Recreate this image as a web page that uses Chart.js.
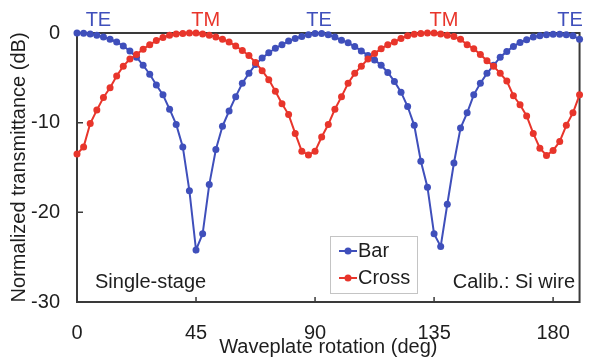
<!DOCTYPE html>
<html><head><meta charset="utf-8">
<script src="https://cdn.jsdelivr.net/npm/chart.js@4.4.0/dist/chart.umd.min.js"></script>
<style>html,body{margin:0;padding:0;background:#fff;}#wrap{width:589px;height:359px;}</style>
</head><body><div id="wrap"><canvas id="c" width="589" height="359"></canvas></div>
<script>
// Waveplate rotation angles (deg)
const angles = [0,2.5,5,7.5,10,12.5,15,17.5,20,22.5,25,27.5,30,32.5,35,37.5,40,42.5,45,
  47.5,50,52.5,55,57.5,60,62.5,65,67.5,70,72.5,75,77.5,80,82.5,85,87.5,90,
  92.5,95,97.5,100,102.5,105,107.5,110,112.5,115,117.5,120,122.5,125,127.5,130,132.5,135,
  137.5,140,142.5,145,147.5,150,152.5,155,157.5,160,162.5,165,167.5,170,172.5,175,177.5,180,182.5,185,187.5,190];
// Bar port normalized transmittance (dB)
const barValues = [0,-0.02,-0.1,-0.25,-0.45,-0.7,-1.0,-1.45,-2.0,-2.7,-3.6,-4.6,-5.8,-6.9,-8.5,-10.2,-12.7,-17.6,-24.2,
  -22.4,-16.9,-13.0,-10.4,-8.7,-7.1,-5.6,-4.5,-3.5,-2.8,-2.2,-1.7,-1.3,-0.9,-0.6,-0.4,-0.2,-0.05,
  -0.05,-0.2,-0.45,-0.8,-1.1,-1.5,-2.0,-2.5,-3.0,-3.6,-4.4,-5.4,-6.6,-8.2,-10.3,-14.3,-17.2,-22.4,
  -23.8,-19.1,-14.5,-10.6,-8.9,-6.9,-5.6,-4.5,-3.6,-2.7,-2.05,-1.5,-1.05,-0.75,-0.45,-0.3,-0.2,-0.15,-0.15,-0.2,-0.3,-0.7];
// Cross port normalized transmittance (dB)
const crossValues = [-13.5,-12.7,-10.1,-8.6,-7.2,-6.1,-4.8,-3.7,-2.9,-2.4,-1.8,-1.3,-0.85,-0.5,-0.25,-0.1,-0.05,0,0,
  -0.1,-0.25,-0.45,-0.7,-1.0,-1.45,-1.95,-2.5,-3.3,-4.2,-5.2,-6.5,-7.9,-9.1,-11.2,-13.2,-13.6,-13.2,
  -11.6,-10.2,-8.5,-7.1,-5.6,-4.5,-3.7,-2.9,-2.3,-1.75,-1.3,-1.0,-0.6,-0.3,-0.15,-0.05,0,0,
  -0.1,-0.25,-0.4,-0.7,-1.3,-1.75,-2.4,-3.1,-3.7,-4.5,-5.35,-7.0,-8.0,-9.25,-11.2,-12.85,-13.65,-13.1,-12.1,-10.3,-8.9,-6.9];
const seriesNames = ['Bar','Cross'];
const xTickValues = [0,45,90,135,180];
const yTickValues = [0,-10,-20,-30];

const BLUE = '#3f4fbb', RED = '#e8352b';
const FONT = '"Liberation Sans", Arial, sans-serif';
const TXT = '#1e1e1e';

const decor = {
  id: 'decor',
  beforeDatasetsDraw(chart) {
    const {ctx, chartArea: a, scales} = chart;
    ctx.save();
    ctx.strokeStyle = '#3a3a3a';
    ctx.lineWidth = 2;
    ctx.strokeRect(a.left, a.top, a.right - a.left, a.bottom - a.top);
    ctx.lineWidth = 1.5;
    ctx.beginPath();
    scales.x.ticks.forEach(t => {
      const px = scales.x.getPixelForValue(t.value);
      ctx.moveTo(px, a.bottom); ctx.lineTo(px, a.bottom - 5);
    });
    scales.y.ticks.forEach(t => {
      const py = scales.y.getPixelForValue(t.value);
      ctx.moveTo(a.left, py); ctx.lineTo(a.left + 6, py);
    });
    ctx.stroke();
    ctx.restore();
  },
  afterDatasetsDraw(chart) {
    const {ctx, chartArea: a, scales} = chart;
    ctx.save();
    ctx.font = '20px ' + FONT;
    ctx.textBaseline = 'middle';
    ctx.textAlign = 'center';
    const modes = [['TE', 8.1, BLUE], ['TM', 48.7, RED], ['TE', 91.5, BLUE], ['TM', 138.7, RED], ['TE', 186.4, BLUE]];
    modes.forEach(([t, x, c]) => { ctx.fillStyle = c; ctx.fillText(t, scales.x.getPixelForValue(x), 20); });
    ctx.fillStyle = TXT;
    ctx.textAlign = 'left';
    ctx.fillText('Single-stage', 95, 282);
    ctx.textAlign = 'right';
    ctx.fillText('Calib.: Si wire', 575, 282);
    // legend box
    const lx = 330, ly = 236, lw = 87, lh = 57;
    ctx.fillStyle = '#fff';
    ctx.fillRect(lx, ly, lw, lh);
    ctx.strokeStyle = '#c4c4c4';
    ctx.lineWidth = 1;
    ctx.strokeRect(lx + 0.5, ly + 0.5, lw, lh);
    chart.data.datasets.forEach((ds, i) => {
      const y = ly + 15 + i * 27;
      ctx.strokeStyle = ds.borderColor; ctx.lineWidth = 2;
      ctx.beginPath(); ctx.moveTo(339, y); ctx.lineTo(357, y); ctx.stroke();
      ctx.fillStyle = ds.borderColor;
      ctx.beginPath(); ctx.arc(348, y, 3.5, 0, Math.PI * 2); ctx.fill();
      ctx.fillStyle = TXT; ctx.textAlign = 'left';
      ctx.fillText(ds.label, 358, y);
    });
    ctx.restore();
  }
};

new Chart(document.getElementById('c'), {
  type: 'line',
  data: {
    datasets: [
      { label: seriesNames[0], data: angles.map((a, i) => ({x: a, y: barValues[i]})), borderColor: BLUE, backgroundColor: BLUE,
        pointBackgroundColor: BLUE, pointBorderWidth: 0, pointRadius: 3.5, borderWidth: 2, order: 1, clip: false },
      { label: seriesNames[1], data: angles.map((a, i) => ({x: a, y: crossValues[i]})), borderColor: RED, backgroundColor: RED,
        pointBackgroundColor: RED, pointBorderWidth: 0, pointRadius: 3.5, borderWidth: 2, order: 0, clip: false }
    ]
  },
  options: {
    responsive: false, animation: false, devicePixelRatio: 1,
    layout: { padding: { left: 0, top: 33, right: 4, bottom: 0 } },
    plugins: { legend: { display: false }, tooltip: { enabled: false } },
    scales: {
      x: {
        type: 'linear', min: 0, max: 190,
        afterBuildTicks: s => { s.ticks = xTickValues.map(v => ({value: v})); },
        afterFit: s => { s.height = 57; },
        grid: { display: false, drawTicks: false }, border: { display: false },
        ticks: { font: { size: 20, family: FONT }, color: TXT, padding: 19, maxRotation: 0 },
        title: { display: true, text: 'Waveplate rotation (deg)', font: { size: 20, family: FONT }, color: TXT, padding: 0 }
      },
      y: {
        min: -30, max: 0,
        afterBuildTicks: s => { s.ticks = yTickValues.map(v => ({value: v})); },
        afterFit: s => { s.width = 77; },
        grid: { display: false, drawTicks: false }, border: { display: false },
        ticks: { font: { size: 20, family: FONT }, color: TXT, padding: 17 },
        title: { display: true, text: 'Normalized transmittance (dB)', font: { size: 20, family: FONT }, color: TXT, padding: { top: 7, bottom: 0 } }
      }
    }
  },
  plugins: [decor]
});
</script></body></html>
